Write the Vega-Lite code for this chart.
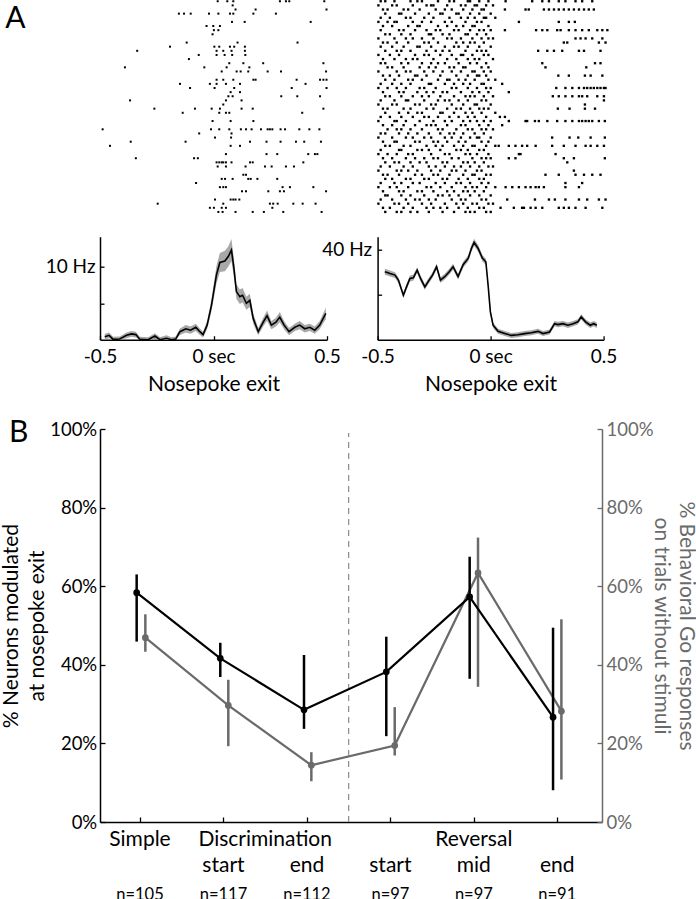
{
"$schema": "https://vega.github.io/schema/vega-lite/v6.json",
"background": "white",
"padding": 0,
"config": {"font": "Lato", "view": {"stroke": null}, "text": {"font": "Lato"},
  "axis": {"grid": false, "labelFont": "Lato", "titleFont": "Lato", "titleFontWeight": "normal", "domainColor": "#000", "tickColor": "#000", "labelColor": "#000", "titleColor": "#000", "domainWidth": 1.5, "tickWidth": 1.3, "labelOverlap": false}},
"datasets": {
"rl": [
{"t":0.013,"k":0},{"t":0.056,"k":0},{"t":0.083,"k":0},{"t":0.292,"k":0},{"t":0.319,"k":0},{"t":0.334,"k":0},{"t":0.491,"k":0},
{"t":0.08,"k":1},
{"t":0.093,"k":2},{"t":0.183,"k":2},{"t":0.501,"k":2},
{"t":-0.161,"k":3},{"t":-0.138,"k":3},{"t":-0.108,"k":3},{"t":-0.026,"k":3},{"t":0.016,"k":3},{"t":0.068,"k":3},{"t":0.083,"k":3},{"t":0.173,"k":3},{"t":0.274,"k":3},
{"t":0.077,"k":5},{"t":0.134,"k":5},{"t":0.43,"k":5},
{"t":-0.037,"k":6},{"t":-0.007,"k":6},{"t":0.023,"k":6},
{"t":-0.004,"k":7},{"t":0.016,"k":7},
{"t":-0.01,"k":8},
{"t":-0.126,"k":10},{"t":0.102,"k":10},{"t":0.371,"k":10},
{"t":-0.201,"k":11},{"t":-0.002,"k":11},{"t":0.02,"k":11},{"t":0.068,"k":11},{"t":0.087,"k":11},{"t":0.135,"k":11},
{"t":-0.348,"k":12},{"t":0.008,"k":12},{"t":0.038,"k":12},{"t":0.075,"k":12},{"t":0.135,"k":12},
{"t":-0.072,"k":13},{"t":0.008,"k":13},{"t":0.044,"k":13},{"t":0.078,"k":13},{"t":0.137,"k":13},
{"t":-0.116,"k":14},
{"t":0.065,"k":15},{"t":0.128,"k":15},{"t":0.217,"k":15},{"t":0.487,"k":15},
{"t":-0.403,"k":16},{"t":-0.047,"k":16},{"t":0.053,"k":16},{"t":0.155,"k":16},
{"t":0.031,"k":17},{"t":0.098,"k":17},{"t":0.116,"k":17},{"t":0.15,"k":17},{"t":0.237,"k":17},{"t":0.297,"k":17},{"t":0.499,"k":17},
{"t":0.008,"k":19},{"t":0.038,"k":19},{"t":0.083,"k":19},{"t":0.173,"k":19},{"t":0.183,"k":19},{"t":0.367,"k":19},{"t":0.472,"k":19},{"t":0.487,"k":19},{"t":0.501,"k":19},
{"t":-0.156,"k":20},{"t":-0.022,"k":20},{"t":0.008,"k":20},{"t":0.05,"k":20},{"t":0.113,"k":20},{"t":0.407,"k":20},
{"t":-0.111,"k":21},{"t":-0.001,"k":21},{"t":0.087,"k":21},{"t":0.345,"k":21},{"t":0.501,"k":21},
{"t":0.071,"k":22},{"t":0.113,"k":22},
{"t":0.061,"k":23},{"t":0.08,"k":23},{"t":0.298,"k":23},{"t":0.37,"k":23},{"t":0.472,"k":23},
{"t":-0.38,"k":24},{"t":0.05,"k":24},{"t":0.12,"k":24},
{"t":0.038,"k":25},
{"t":-0.271,"k":26},{"t":-0.089,"k":26},{"t":-0.014,"k":26},{"t":0.023,"k":26},{"t":0.12,"k":26},{"t":0.17,"k":26},{"t":0.487,"k":26},
{"t":-0.144,"k":27},{"t":0.02,"k":27},{"t":0.05,"k":27},{"t":0.065,"k":27},{"t":0.392,"k":27},
{"t":-0.01,"k":29},{"t":0.071,"k":29},{"t":0.173,"k":29},
{"t":-0.503,"k":31},{"t":-0.017,"k":31},{"t":0.02,"k":31},{"t":0.065,"k":31},{"t":0.117,"k":31},{"t":0.14,"k":31},{"t":0.165,"k":31},{"t":0.207,"k":31},{"t":0.237,"k":31},{"t":0.247,"k":31},{"t":0.258,"k":31},{"t":0.295,"k":31},{"t":0.315,"k":31},{"t":0.379,"k":31},{"t":0.424,"k":31},{"t":0.469,"k":31},
{"t":-0.07,"k":32},{"t":0.075,"k":32},
{"t":0.001,"k":33},{"t":0.073,"k":33},
{"t":-0.377,"k":34},{"t":-0.131,"k":34},{"t":0.158,"k":34},{"t":0.232,"k":34},{"t":0.295,"k":34},{"t":0.364,"k":34},{"t":0.401,"k":34},{"t":0.476,"k":34},
{"t":-0.47,"k":35},{"t":0.071,"k":35},{"t":0.113,"k":35},
{"t":0.05,"k":37},{"t":0.232,"k":37},{"t":0.28,"k":37},{"t":0.419,"k":37},{"t":0.449,"k":37},{"t":0.46,"k":37},
{"t":-0.354,"k":38},{"t":-0.093,"k":38},{"t":-0.076,"k":38},
{"t":0.008,"k":39},{"t":0.02,"k":39},{"t":0.031,"k":39},{"t":0.038,"k":39},{"t":0.05,"k":39},{"t":0.075,"k":39},{"t":0.158,"k":39},{"t":0.17,"k":39},{"t":0.397,"k":39},
{"t":0.013,"k":40},{"t":0.05,"k":40},{"t":0.138,"k":40},{"t":0.225,"k":40},{"t":0.255,"k":40},{"t":0.319,"k":40},{"t":0.355,"k":40},
{"t":0.128,"k":42},{"t":0.14,"k":42},
{"t":0.031,"k":43},{"t":0.046,"k":43},{"t":0.08,"k":43},{"t":0.15,"k":43},{"t":0.161,"k":43},{"t":0.191,"k":43},{"t":0.28,"k":43},
{"t":-0.084,"k":44},
{"t":0.023,"k":45},{"t":0.038,"k":45},{"t":0.05,"k":45},{"t":0.304,"k":45},{"t":0.337,"k":45},{"t":0.442,"k":45},
{"t":0.122,"k":46},{"t":0.14,"k":46},{"t":0.24,"k":46},{"t":0.292,"k":46},{"t":0.31,"k":46},{"t":0.499,"k":46},
{"t":0.001,"k":48},{"t":0.071,"k":48},{"t":0.083,"k":48},{"t":0.093,"k":48},{"t":0.11,"k":48},
{"t":-0.256,"k":49},{"t":0.038,"k":49},{"t":0.247,"k":49},{"t":0.262,"k":49},{"t":0.282,"k":49},{"t":0.352,"k":49},{"t":0.394,"k":49},{"t":0.452,"k":49},
{"t":-0.022,"k":50},{"t":-0.004,"k":50},{"t":0.031,"k":50},{"t":0.05,"k":50},{"t":0.258,"k":50},
{"t":0.016,"k":51},{"t":0.035,"k":51},{"t":0.093,"k":51},{"t":0.17,"k":51},{"t":0.22,"k":51},{"t":0.307,"k":51},{"t":0.479,"k":51}
],
"rr": [
{"t":-0.49,"k":0},{"t":-0.47,"k":0},{"t":-0.43,"k":0},{"t":-0.36,"k":0},{"t":-0.33,"k":0},{"t":-0.31,"k":0},{"t":-0.24,"k":0},{"t":-0.19,"k":0},{"t":-0.17,"k":0},{"t":-0.11,"k":0},{"t":-0.1,"k":0},{"t":-0.06,"k":0},{"t":-0.02,"k":0},
{"t":-0.5,"k":1},{"t":-0.44,"k":1},{"t":-0.42,"k":1},{"t":-0.35,"k":1},{"t":-0.29,"k":1},{"t":-0.27,"k":1},{"t":-0.26,"k":1},{"t":-0.2,"k":1},{"t":-0.14,"k":1},{"t":-0.12,"k":1},{"t":-0.08,"k":1},{"t":-0.07,"k":1},{"t":-0.03,"k":1},{"t":0.0,"k":1},
{"t":-0.48,"k":2},{"t":-0.46,"k":2},{"t":-0.39,"k":2},{"t":-0.37,"k":2},{"t":-0.32,"k":2},{"t":-0.25,"k":2},{"t":-0.21,"k":2},{"t":-0.18,"k":2},{"t":-0.13,"k":2},{"t":-0.09,"k":2},{"t":-0.05,"k":2},{"t":-0.04,"k":2},
{"t":-0.47,"k":3},{"t":-0.41,"k":3},{"t":-0.4,"k":3},{"t":-0.34,"k":3},{"t":-0.28,"k":3},{"t":-0.23,"k":3},{"t":-0.22,"k":3},{"t":-0.16,"k":3},{"t":-0.15,"k":3},{"t":-0.1,"k":3},{"t":-0.06,"k":3},{"t":-0.01,"k":3},
{"t":-0.49,"k":4},{"t":-0.45,"k":4},{"t":-0.38,"k":4},{"t":-0.36,"k":4},{"t":-0.3,"k":4},{"t":-0.26,"k":4},{"t":-0.19,"k":4},{"t":-0.14,"k":4},{"t":-0.11,"k":4},{"t":-0.08,"k":4},{"t":-0.04,"k":4},{"t":-0.03,"k":4},{"t":0.01,"k":4},
{"t":-0.5,"k":5},{"t":-0.46,"k":5},{"t":-0.43,"k":5},{"t":-0.42,"k":5},{"t":-0.35,"k":5},{"t":-0.31,"k":5},{"t":-0.27,"k":5},{"t":-0.21,"k":5},{"t":-0.18,"k":5},{"t":-0.12,"k":5},{"t":-0.07,"k":5},{"t":-0.05,"k":5},
{"t":-0.48,"k":6},{"t":-0.44,"k":6},{"t":-0.37,"k":6},{"t":-0.33,"k":6},{"t":-0.32,"k":6},{"t":-0.24,"k":6},{"t":-0.2,"k":6},{"t":-0.16,"k":6},{"t":-0.13,"k":6},{"t":-0.09,"k":6},{"t":-0.08,"k":6},{"t":-0.02,"k":6},
{"t":-0.49,"k":7},{"t":-0.41,"k":7},{"t":-0.39,"k":7},{"t":-0.34,"k":7},{"t":-0.29,"k":7},{"t":-0.25,"k":7},{"t":-0.23,"k":7},{"t":-0.17,"k":7},{"t":-0.15,"k":7},{"t":-0.1,"k":7},{"t":-0.06,"k":7},{"t":-0.04,"k":7},{"t":-0.01,"k":7},
{"t":-0.47,"k":8},{"t":-0.45,"k":8},{"t":-0.4,"k":8},{"t":-0.36,"k":8},{"t":-0.28,"k":8},{"t":-0.27,"k":8},{"t":-0.22,"k":8},{"t":-0.19,"k":8},{"t":-0.12,"k":8},{"t":-0.11,"k":8},{"t":-0.07,"k":8},{"t":-0.03,"k":8},
{"t":-0.5,"k":9},{"t":-0.43,"k":9},{"t":-0.38,"k":9},{"t":-0.35,"k":9},{"t":-0.31,"k":9},{"t":-0.26,"k":9},{"t":-0.2,"k":9},{"t":-0.18,"k":9},{"t":-0.14,"k":9},{"t":-0.09,"k":9},{"t":-0.05,"k":9},{"t":-0.02,"k":9},{"t":0.0,"k":9},
{"t":-0.48,"k":10},{"t":-0.46,"k":10},{"t":-0.42,"k":10},{"t":-0.37,"k":10},{"t":-0.3,"k":10},{"t":-0.28,"k":10},{"t":-0.24,"k":10},{"t":-0.16,"k":10},{"t":-0.13,"k":10},{"t":-0.1,"k":10},{"t":-0.08,"k":10},{"t":-0.04,"k":10},
{"t":-0.49,"k":11},{"t":-0.44,"k":11},{"t":-0.39,"k":11},{"t":-0.33,"k":11},{"t":-0.32,"k":11},{"t":-0.27,"k":11},{"t":-0.21,"k":11},{"t":-0.17,"k":11},{"t":-0.15,"k":11},{"t":-0.11,"k":11},{"t":-0.06,"k":11},{"t":-0.01,"k":11},
{"t":-0.47,"k":12},{"t":-0.42,"k":12},{"t":-0.4,"k":12},{"t":-0.36,"k":12},{"t":-0.29,"k":12},{"t":-0.25,"k":12},{"t":-0.22,"k":12},{"t":-0.19,"k":12},{"t":-0.12,"k":12},{"t":-0.07,"k":12},{"t":-0.05,"k":12},{"t":-0.03,"k":12},
{"t":-0.5,"k":13},{"t":-0.45,"k":13},{"t":-0.41,"k":13},{"t":-0.34,"k":13},{"t":-0.3,"k":13},{"t":-0.28,"k":13},{"t":-0.23,"k":13},{"t":-0.18,"k":13},{"t":-0.14,"k":13},{"t":-0.13,"k":13},{"t":-0.09,"k":13},{"t":-0.04,"k":13},{"t":-0.02,"k":13},
{"t":-0.48,"k":14},{"t":-0.43,"k":14},{"t":-0.38,"k":14},{"t":-0.35,"k":14},{"t":-0.33,"k":14},{"t":-0.26,"k":14},{"t":-0.2,"k":14},{"t":-0.16,"k":14},{"t":-0.11,"k":14},{"t":-0.08,"k":14},{"t":-0.06,"k":14},{"t":0.0,"k":14},
{"t":-0.49,"k":15},{"t":-0.47,"k":15},{"t":-0.4,"k":15},{"t":-0.37,"k":15},{"t":-0.31,"k":15},{"t":-0.27,"k":15},{"t":-0.24,"k":15},{"t":-0.21,"k":15},{"t":-0.15,"k":15},{"t":-0.1,"k":15},{"t":-0.07,"k":15},{"t":-0.03,"k":15},
{"t":-0.46,"k":16},{"t":-0.44,"k":16},{"t":-0.39,"k":16},{"t":-0.32,"k":16},{"t":-0.28,"k":16},{"t":-0.25,"k":16},{"t":-0.19,"k":16},{"t":-0.17,"k":16},{"t":-0.13,"k":16},{"t":-0.12,"k":16},{"t":-0.05,"k":16},{"t":-0.02,"k":16},
{"t":-0.5,"k":17},{"t":-0.42,"k":17},{"t":-0.38,"k":17},{"t":-0.36,"k":17},{"t":-0.3,"k":17},{"t":-0.26,"k":17},{"t":-0.22,"k":17},{"t":-0.18,"k":17},{"t":-0.14,"k":17},{"t":-0.09,"k":17},{"t":-0.08,"k":17},{"t":-0.04,"k":17},{"t":-0.01,"k":17},
{"t":-0.48,"k":18},{"t":-0.45,"k":18},{"t":-0.41,"k":18},{"t":-0.34,"k":18},{"t":-0.33,"k":18},{"t":-0.29,"k":18},{"t":-0.23,"k":18},{"t":-0.16,"k":18},{"t":-0.11,"k":18},{"t":-0.07,"k":18},{"t":-0.06,"k":18},{"t":-0.03,"k":18},
{"t":-0.47,"k":19},{"t":-0.43,"k":19},{"t":-0.37,"k":19},{"t":-0.35,"k":19},{"t":-0.31,"k":19},{"t":-0.24,"k":19},{"t":-0.2,"k":19},{"t":-0.19,"k":19},{"t":-0.15,"k":19},{"t":-0.12,"k":19},{"t":-0.08,"k":19},{"t":-0.02,"k":19},{"t":0.01,"k":19},
{"t":-0.49,"k":20},{"t":-0.44,"k":20},{"t":-0.4,"k":20},{"t":-0.36,"k":20},{"t":-0.28,"k":20},{"t":-0.27,"k":20},{"t":-0.21,"k":20},{"t":-0.17,"k":20},{"t":-0.13,"k":20},{"t":-0.1,"k":20},{"t":-0.05,"k":20},{"t":-0.04,"k":20},
{"t":-0.5,"k":21},{"t":-0.46,"k":21},{"t":-0.42,"k":21},{"t":-0.38,"k":21},{"t":-0.32,"k":21},{"t":-0.3,"k":21},{"t":-0.25,"k":21},{"t":-0.18,"k":21},{"t":-0.16,"k":21},{"t":-0.11,"k":21},{"t":-0.07,"k":21},{"t":-0.03,"k":21},{"t":-0.01,"k":21},
{"t":-0.48,"k":22},{"t":-0.41,"k":22},{"t":-0.39,"k":22},{"t":-0.33,"k":22},{"t":-0.29,"k":22},{"t":-0.26,"k":22},{"t":-0.22,"k":22},{"t":-0.2,"k":22},{"t":-0.14,"k":22},{"t":-0.09,"k":22},{"t":-0.06,"k":22},{"t":-0.02,"k":22},
{"t":-0.47,"k":23},{"t":-0.45,"k":23},{"t":-0.4,"k":23},{"t":-0.35,"k":23},{"t":-0.31,"k":23},{"t":-0.28,"k":23},{"t":-0.23,"k":23},{"t":-0.17,"k":23},{"t":-0.12,"k":23},{"t":-0.1,"k":23},{"t":-0.08,"k":23},{"t":-0.04,"k":23},{"t":0.0,"k":23},
{"t":-0.49,"k":24},{"t":-0.43,"k":24},{"t":-0.38,"k":24},{"t":-0.37,"k":24},{"t":-0.3,"k":24},{"t":-0.24,"k":24},{"t":-0.21,"k":24},{"t":-0.19,"k":24},{"t":-0.15,"k":24},{"t":-0.11,"k":24},{"t":-0.05,"k":24},{"t":-0.03,"k":24},
{"t":-0.5,"k":25},{"t":-0.44,"k":25},{"t":-0.42,"k":25},{"t":-0.34,"k":25},{"t":-0.32,"k":25},{"t":-0.27,"k":25},{"t":-0.25,"k":25},{"t":-0.18,"k":25},{"t":-0.13,"k":25},{"t":-0.08,"k":25},{"t":-0.07,"k":25},{"t":-0.01,"k":25},
{"t":-0.48,"k":26},{"t":-0.46,"k":26},{"t":-0.39,"k":26},{"t":-0.36,"k":26},{"t":-0.29,"k":26},{"t":-0.26,"k":26},{"t":-0.2,"k":26},{"t":-0.16,"k":26},{"t":-0.14,"k":26},{"t":-0.1,"k":26},{"t":-0.06,"k":26},{"t":-0.04,"k":26},{"t":-0.02,"k":26},
{"t":-0.47,"k":27},{"t":-0.41,"k":27},{"t":-0.37,"k":27},{"t":-0.33,"k":27},{"t":-0.31,"k":27},{"t":-0.23,"k":27},{"t":-0.22,"k":27},{"t":-0.17,"k":27},{"t":-0.12,"k":27},{"t":-0.09,"k":27},{"t":-0.05,"k":27},{"t":0.01,"k":27},
{"t":-0.49,"k":28},{"t":-0.45,"k":28},{"t":-0.4,"k":28},{"t":-0.35,"k":28},{"t":-0.3,"k":28},{"t":-0.28,"k":28},{"t":-0.24,"k":28},{"t":-0.19,"k":28},{"t":-0.15,"k":28},{"t":-0.11,"k":28},{"t":-0.08,"k":28},{"t":-0.03,"k":28},
{"t":-0.5,"k":29},{"t":-0.43,"k":29},{"t":-0.42,"k":29},{"t":-0.38,"k":29},{"t":-0.32,"k":29},{"t":-0.26,"k":29},{"t":-0.21,"k":29},{"t":-0.18,"k":29},{"t":-0.13,"k":29},{"t":-0.1,"k":29},{"t":-0.07,"k":29},{"t":-0.04,"k":29},{"t":-0.01,"k":29},
{"t":-0.48,"k":30},{"t":-0.44,"k":30},{"t":-0.39,"k":30},{"t":-0.34,"k":30},{"t":-0.29,"k":30},{"t":-0.27,"k":30},{"t":-0.25,"k":30},{"t":-0.2,"k":30},{"t":-0.14,"k":30},{"t":-0.12,"k":30},{"t":-0.06,"k":30},{"t":-0.02,"k":30},
{"t":-0.46,"k":31},{"t":-0.42,"k":31},{"t":-0.4,"k":31},{"t":-0.36,"k":31},{"t":-0.31,"k":31},{"t":-0.24,"k":31},{"t":-0.22,"k":31},{"t":-0.16,"k":31},{"t":-0.11,"k":31},{"t":-0.09,"k":31},{"t":-0.05,"k":31},{"t":-0.03,"k":31},{"t":0.0,"k":31},
{"t":-0.49,"k":32},{"t":-0.47,"k":32},{"t":-0.41,"k":32},{"t":-0.37,"k":32},{"t":-0.33,"k":32},{"t":-0.28,"k":32},{"t":-0.23,"k":32},{"t":-0.19,"k":32},{"t":-0.17,"k":32},{"t":-0.13,"k":32},{"t":-0.08,"k":32},{"t":-0.04,"k":32},
{"t":-0.5,"k":33},{"t":-0.44,"k":33},{"t":-0.38,"k":33},{"t":-0.35,"k":33},{"t":-0.3,"k":33},{"t":-0.27,"k":33},{"t":-0.21,"k":33},{"t":-0.18,"k":33},{"t":-0.14,"k":33},{"t":-0.1,"k":33},{"t":-0.07,"k":33},{"t":-0.06,"k":33},{"t":-0.01,"k":33},
{"t":-0.48,"k":34},{"t":-0.43,"k":34},{"t":-0.42,"k":34},{"t":-0.34,"k":34},{"t":-0.32,"k":34},{"t":-0.26,"k":34},{"t":-0.24,"k":34},{"t":-0.2,"k":34},{"t":-0.15,"k":34},{"t":-0.12,"k":34},{"t":-0.05,"k":34},{"t":-0.02,"k":34},
{"t":-0.47,"k":35},{"t":-0.45,"k":35},{"t":-0.39,"k":35},{"t":-0.36,"k":35},{"t":-0.29,"k":35},{"t":-0.25,"k":35},{"t":-0.22,"k":35},{"t":-0.17,"k":35},{"t":-0.13,"k":35},{"t":-0.09,"k":35},{"t":-0.08,"k":35},{"t":-0.03,"k":35},{"t":0.01,"k":35},
{"t":-0.49,"k":36},{"t":-0.41,"k":36},{"t":-0.4,"k":36},{"t":-0.33,"k":36},{"t":-0.31,"k":36},{"t":-0.28,"k":36},{"t":-0.23,"k":36},{"t":-0.16,"k":36},{"t":-0.14,"k":36},{"t":-0.11,"k":36},{"t":-0.06,"k":36},{"t":-0.04,"k":36},
{"t":-0.5,"k":37},{"t":-0.46,"k":37},{"t":-0.42,"k":37},{"t":-0.37,"k":37},{"t":-0.35,"k":37},{"t":-0.27,"k":37},{"t":-0.21,"k":37},{"t":-0.19,"k":37},{"t":-0.12,"k":37},{"t":-0.1,"k":37},{"t":-0.07,"k":37},{"t":-0.02,"k":37},
{"t":-0.48,"k":38},{"t":-0.44,"k":38},{"t":-0.38,"k":38},{"t":-0.34,"k":38},{"t":-0.3,"k":38},{"t":-0.26,"k":38},{"t":-0.24,"k":38},{"t":-0.18,"k":38},{"t":-0.15,"k":38},{"t":-0.09,"k":38},{"t":-0.05,"k":38},{"t":-0.03,"k":38},{"t":-0.01,"k":38},
{"t":-0.47,"k":39},{"t":-0.43,"k":39},{"t":-0.41,"k":39},{"t":-0.36,"k":39},{"t":-0.32,"k":39},{"t":-0.29,"k":39},{"t":-0.22,"k":39},{"t":-0.2,"k":39},{"t":-0.13,"k":39},{"t":-0.11,"k":39},{"t":-0.08,"k":39},{"t":-0.04,"k":39},
{"t":-0.49,"k":40},{"t":-0.45,"k":40},{"t":-0.39,"k":40},{"t":-0.35,"k":40},{"t":-0.28,"k":40},{"t":-0.25,"k":40},{"t":-0.21,"k":40},{"t":-0.17,"k":40},{"t":-0.14,"k":40},{"t":-0.1,"k":40},{"t":-0.06,"k":40},{"t":-0.02,"k":40},{"t":0.0,"k":40},
{"t":-0.5,"k":41},{"t":-0.42,"k":41},{"t":-0.4,"k":41},{"t":-0.37,"k":41},{"t":-0.33,"k":41},{"t":-0.27,"k":41},{"t":-0.23,"k":41},{"t":-0.18,"k":41},{"t":-0.16,"k":41},{"t":-0.12,"k":41},{"t":-0.07,"k":41},{"t":-0.05,"k":41},
{"t":-0.48,"k":42},{"t":-0.46,"k":42},{"t":-0.41,"k":42},{"t":-0.34,"k":42},{"t":-0.31,"k":42},{"t":-0.26,"k":42},{"t":-0.24,"k":42},{"t":-0.19,"k":42},{"t":-0.13,"k":42},{"t":-0.09,"k":42},{"t":-0.08,"k":42},{"t":-0.03,"k":42},{"t":-0.01,"k":42},
{"t":-0.47,"k":43},{"t":-0.44,"k":43},{"t":-0.38,"k":43},{"t":-0.36,"k":43},{"t":-0.3,"k":43},{"t":-0.28,"k":43},{"t":-0.22,"k":43},{"t":-0.2,"k":43},{"t":-0.15,"k":43},{"t":-0.11,"k":43},{"t":-0.06,"k":43},{"t":-0.04,"k":43},
{"t":-0.49,"k":44},{"t":-0.43,"k":44},{"t":-0.4,"k":44},{"t":-0.35,"k":44},{"t":-0.32,"k":44},{"t":-0.25,"k":44},{"t":-0.21,"k":44},{"t":-0.16,"k":44},{"t":-0.14,"k":44},{"t":-0.1,"k":44},{"t":-0.05,"k":44},{"t":-0.02,"k":44},
{"t":-0.5,"k":45},{"t":-0.45,"k":45},{"t":-0.42,"k":45},{"t":-0.37,"k":45},{"t":-0.29,"k":45},{"t":-0.27,"k":45},{"t":-0.23,"k":45},{"t":-0.18,"k":45},{"t":-0.12,"k":45},{"t":-0.09,"k":45},{"t":-0.07,"k":45},{"t":-0.03,"k":45},{"t":0.01,"k":45},
{"t":-0.48,"k":46},{"t":-0.41,"k":46},{"t":-0.39,"k":46},{"t":-0.33,"k":46},{"t":-0.31,"k":46},{"t":-0.26,"k":46},{"t":-0.2,"k":46},{"t":-0.17,"k":46},{"t":-0.13,"k":46},{"t":-0.11,"k":46},{"t":-0.08,"k":46},{"t":-0.04,"k":46},
{"t":-0.47,"k":47},{"t":-0.46,"k":47},{"t":-0.4,"k":47},{"t":-0.36,"k":47},{"t":-0.3,"k":47},{"t":-0.24,"k":47},{"t":-0.22,"k":47},{"t":-0.19,"k":47},{"t":-0.15,"k":47},{"t":-0.1,"k":47},{"t":-0.06,"k":47},{"t":-0.01,"k":47},
{"t":-0.49,"k":48},{"t":-0.44,"k":48},{"t":-0.38,"k":48},{"t":-0.34,"k":48},{"t":-0.32,"k":48},{"t":-0.28,"k":48},{"t":-0.25,"k":48},{"t":-0.18,"k":48},{"t":-0.14,"k":48},{"t":-0.12,"k":48},{"t":-0.05,"k":48},{"t":-0.03,"k":48},
{"t":-0.5,"k":49},{"t":-0.43,"k":49},{"t":-0.41,"k":49},{"t":-0.37,"k":49},{"t":-0.31,"k":49},{"t":-0.27,"k":49},{"t":-0.21,"k":49},{"t":-0.16,"k":49},{"t":-0.13,"k":49},{"t":-0.09,"k":49},{"t":-0.07,"k":49},{"t":-0.02,"k":49},{"t":0.0,"k":49},
{"t":-0.48,"k":50},{"t":-0.45,"k":50},{"t":-0.39,"k":50},{"t":-0.35,"k":50},{"t":-0.29,"k":50},{"t":-0.26,"k":50},{"t":-0.23,"k":50},{"t":-0.2,"k":50},{"t":-0.15,"k":50},{"t":-0.11,"k":50},{"t":-0.06,"k":50},{"t":-0.04,"k":50},
{"t":-0.47,"k":51},{"t":-0.42,"k":51},{"t":-0.4,"k":51},{"t":-0.36,"k":51},{"t":-0.33,"k":51},{"t":-0.28,"k":51},{"t":-0.22,"k":51},{"t":-0.17,"k":51},{"t":-0.12,"k":51},{"t":-0.1,"k":51},{"t":-0.08,"k":51},{"t":-0.03,"k":51},{"t":-0.01,"k":51},
{"t":0.055,"k":0},{"t":0.171,"k":0},{"t":0.215,"k":0},{"t":0.244,"k":0},{"t":0.287,"k":0},{"t":0.316,"k":0},{"t":0.36,"k":0},{"t":0.389,"k":0},{"t":0.433,"k":0},
{"t":0.052,"k":2},{"t":0.142,"k":2},{"t":0.156,"k":2},{"t":0.222,"k":2},{"t":0.244,"k":2},{"t":0.266,"k":2},{"t":0.287,"k":2},{"t":0.309,"k":2},{"t":0.331,"k":2},{"t":0.353,"k":2},{"t":0.375,"k":2},{"t":0.397,"k":2},{"t":0.418,"k":2},{"t":0.44,"k":2},
{"t":0.113,"k":5},{"t":0.287,"k":5},{"t":0.331,"k":5},{"t":0.357,"k":5},
{"t":0.052,"k":7},{"t":0.188,"k":7},{"t":0.215,"k":7},{"t":0.237,"k":7},{"t":0.28,"k":7},{"t":0.295,"k":7},{"t":0.331,"k":7},{"t":0.36,"k":7},{"t":0.389,"k":7},{"t":0.418,"k":7},{"t":0.455,"k":7},{"t":0.477,"k":7},{"t":0.499,"k":7},
{"t":0.36,"k":9},{"t":0.382,"k":9},{"t":0.404,"k":9},{"t":0.433,"k":9},{"t":0.477,"k":9},
{"t":0.309,"k":10},{"t":0.324,"k":10},{"t":0.462,"k":10},{"t":0.491,"k":10},
{"t":0.197,"k":12},{"t":0.237,"k":12},{"t":0.266,"k":12},{"t":0.302,"k":12},{"t":0.375,"k":12},{"t":0.397,"k":12},{"t":0.469,"k":12},
{"t":0.215,"k":15},{"t":0.445,"k":15},{"t":0.469,"k":15},
{"t":0.229,"k":16},{"t":0.407,"k":16},
{"t":0.285,"k":18},{"t":0.331,"k":18},{"t":0.401,"k":18},{"t":0.426,"k":18},{"t":0.477,"k":18},
{"t":0.04,"k":20},
{"t":0.276,"k":21},{"t":0.316,"k":21},{"t":0.346,"k":21},{"t":0.375,"k":21},{"t":0.397,"k":21},{"t":0.411,"k":21},{"t":0.426,"k":21},{"t":0.44,"k":21},{"t":0.455,"k":21},{"t":0.469,"k":21},{"t":0.484,"k":21},{"t":0.491,"k":21},
{"t":0.069,"k":22},
{"t":0.261,"k":23},{"t":0.287,"k":23},{"t":0.316,"k":23},{"t":0.346,"k":23},{"t":0.375,"k":23},{"t":0.389,"k":23},{"t":0.411,"k":23},{"t":0.455,"k":23},{"t":0.484,"k":23},
{"t":0.484,"k":24},
{"t":0.401,"k":25},
{"t":0.283,"k":26},{"t":0.334,"k":26},{"t":0.401,"k":26},{"t":0.445,"k":26},
{"t":0.03,"k":28},{"t":0.052,"k":28},
{"t":0.069,"k":29},{"t":0.142,"k":29},{"t":0.149,"k":29},{"t":0.183,"k":29},{"t":0.2,"k":29},{"t":0.237,"k":29},{"t":0.28,"k":29},{"t":0.316,"k":29},{"t":0.346,"k":29},{"t":0.375,"k":29},{"t":0.389,"k":29},{"t":0.404,"k":29},{"t":0.418,"k":29},{"t":0.433,"k":29},{"t":0.462,"k":29},{"t":0.488,"k":29},
{"t":0.04,"k":30},
{"t":0.258,"k":33},{"t":0.334,"k":33},{"t":0.372,"k":33},{"t":0.426,"k":33},{"t":0.488,"k":33},
{"t":0.025,"k":35},{"t":0.069,"k":35},{"t":0.098,"k":35},{"t":0.127,"k":35},{"t":0.149,"k":35},{"t":0.186,"k":35},{"t":0.258,"k":35},{"t":0.309,"k":35},{"t":0.36,"k":35},{"t":0.404,"k":35},{"t":0.426,"k":35},{"t":0.455,"k":35},{"t":0.484,"k":35},
{"t":0.113,"k":37},{"t":0.12,"k":37},{"t":0.273,"k":37},
{"t":0.069,"k":38},{"t":0.098,"k":38},{"t":0.309,"k":38},{"t":0.353,"k":38},{"t":0.488,"k":38},
{"t":0.324,"k":39},
{"t":0.353,"k":41},
{"t":0.229,"k":42},{"t":0.287,"k":42},{"t":0.36,"k":42},{"t":0.397,"k":42},{"t":0.433,"k":42},{"t":0.469,"k":42},
{"t":0.316,"k":44},{"t":0.389,"k":44},
{"t":0.055,"k":45},{"t":0.084,"k":45},{"t":0.113,"k":45},{"t":0.142,"k":45},{"t":0.164,"k":45},{"t":0.186,"k":45},{"t":0.2,"k":45},{"t":0.222,"k":45},{"t":0.316,"k":45},{"t":0.375,"k":45},
{"t":0.062,"k":48},{"t":0.183,"k":48},{"t":0.244,"k":48},{"t":0.27,"k":48},{"t":0.316,"k":48},{"t":0.375,"k":48},{"t":0.411,"k":48},{"t":0.462,"k":48},{"t":0.491,"k":48},
{"t":0.033,"k":50},{"t":0.091,"k":50},{"t":0.127,"k":50},{"t":0.135,"k":50},{"t":0.164,"k":50},{"t":0.186,"k":50},{"t":0.215,"k":50},{"t":0.287,"k":50},{"t":0.309,"k":50},{"t":0.331,"k":50},{"t":0.36,"k":50},{"t":0.404,"k":50},{"t":0.477,"k":50}
],
"pl": [
{"t":-0.479,"m":0.4,"lo":0.0,"hi":0.8},{"t":-0.46,"m":0.6,"lo":0.2,"hi":1.0},{"t":-0.442,"m":0.05,"lo":0,"hi":0.4},{"t":-0.413,"m":0.1,"lo":0,"hi":0.45},{"t":-0.383,"m":0.6,"lo":0.2,"hi":1.0},{"t":-0.361,"m":0.8,"lo":0.4,"hi":1.2},{"t":-0.342,"m":0.7,"lo":0.3,"hi":1.1},{"t":-0.325,"m":0.05,"lo":0,"hi":0.4},{"t":-0.288,"m":0,"lo":0,"hi":0.35},{"t":-0.258,"m":0.5,"lo":0.1,"hi":0.9},{"t":-0.236,"m":0,"lo":0,"hi":0.35},{"t":-0.207,"m":0.2,"lo":0,"hi":0.6},{"t":-0.185,"m":0,"lo":0,"hi":0.35},{"t":-0.166,"m":0.1,"lo":0,"hi":0.45},{"t":-0.148,"m":1.1,"lo":0.65,"hi":1.55},{"t":-0.122,"m":1.5,"lo":1.0,"hi":2.0},{"t":-0.101,"m":1.3,"lo":0.8,"hi":1.8},{"t":-0.078,"m":1.7,"lo":1.2,"hi":2.2},{"t":-0.06,"m":1.1,"lo":0.65,"hi":1.55},{"t":-0.046,"m":0.7,"lo":0.3,"hi":1.1},{"t":-0.028,"m":2.0,"lo":1.45,"hi":2.55},{"t":-0.009,"m":4.7,"lo":3.9,"hi":5.5},{"t":0.013,"m":8.9,"lo":7.7,"hi":10.1},{"t":0.028,"m":10.6,"lo":9.3,"hi":11.9},{"t":0.05,"m":10.8,"lo":9.4,"hi":12.2},{"t":0.065,"m":11.4,"lo":10.0,"hi":12.8},{"t":0.079,"m":12.3,"lo":10.8,"hi":13.8},{"t":0.09,"m":9.8,"lo":8.5,"hi":11.1},{"t":0.101,"m":6.6,"lo":5.6,"hi":7.6},{"t":0.116,"m":5.9,"lo":4.9,"hi":6.9},{"t":0.128,"m":6.1,"lo":5.1,"hi":7.1},{"t":0.145,"m":5.0,"lo":4.1,"hi":5.9},{"t":0.16,"m":5.4,"lo":4.5,"hi":6.3},{"t":0.175,"m":2.9,"lo":2.2,"hi":3.6},{"t":0.197,"m":1.1,"lo":0.6,"hi":1.6},{"t":0.219,"m":2.4,"lo":1.8,"hi":3.0},{"t":0.236,"m":3.3,"lo":2.6,"hi":4.0},{"t":0.255,"m":2.0,"lo":1.45,"hi":2.55},{"t":0.275,"m":2.4,"lo":1.8,"hi":3.0},{"t":0.292,"m":3.1,"lo":2.4,"hi":3.8},{"t":0.311,"m":2.0,"lo":1.45,"hi":2.55},{"t":0.333,"m":1.1,"lo":0.6,"hi":1.6},{"t":0.358,"m":1.7,"lo":1.2,"hi":2.2},{"t":0.38,"m":2.0,"lo":1.45,"hi":2.55},{"t":0.402,"m":1.5,"lo":1.0,"hi":2.0},{"t":0.424,"m":1.7,"lo":1.2,"hi":2.2},{"t":0.446,"m":1.3,"lo":0.8,"hi":1.8},{"t":0.468,"m":2.0,"lo":1.45,"hi":2.55},{"t":0.486,"m":3.1,"lo":2.4,"hi":3.8},{"t":0.495,"m":3.6,"lo":2.8,"hi":4.4}
],
"pr": [
{"t":-0.468,"m":30.1,"lo":28.8,"hi":31.4},{"t":-0.445,"m":29.3,"lo":28.0,"hi":30.6},{"t":-0.423,"m":28.6,"lo":27.3,"hi":29.9},{"t":-0.408,"m":26.4,"lo":25.1,"hi":27.7},{"t":-0.386,"m":19.7,"lo":18.4,"hi":21.0},{"t":-0.372,"m":23.4,"lo":22.1,"hi":24.7},{"t":-0.357,"m":27.1,"lo":25.8,"hi":28.4},{"t":-0.342,"m":27.4,"lo":26.1,"hi":28.7},{"t":-0.325,"m":30.8,"lo":29.5,"hi":32.1},{"t":-0.31,"m":27.1,"lo":25.8,"hi":28.4},{"t":-0.291,"m":23.4,"lo":22.1,"hi":24.7},{"t":-0.272,"m":26.4,"lo":25.1,"hi":27.7},{"t":-0.257,"m":28.6,"lo":27.3,"hi":29.9},{"t":-0.239,"m":32.3,"lo":31.0,"hi":33.6},{"t":-0.222,"m":26.4,"lo":25.1,"hi":27.7},{"t":-0.203,"m":27.9,"lo":26.6,"hi":29.2},{"t":-0.183,"m":30.1,"lo":28.8,"hi":31.4},{"t":-0.166,"m":32.3,"lo":31.0,"hi":33.6},{"t":-0.144,"m":27.9,"lo":26.6,"hi":29.2},{"t":-0.121,"m":33.3,"lo":32.0,"hi":34.6},{"t":-0.099,"m":36.0,"lo":34.6,"hi":37.4},{"t":-0.085,"m":40.4,"lo":38.9,"hi":41.9},{"t":-0.073,"m":43.1,"lo":41.5,"hi":44.7},{"t":-0.055,"m":40.4,"lo":38.9,"hi":41.9},{"t":-0.036,"m":36.0,"lo":34.6,"hi":37.4},{"t":-0.021,"m":34.5,"lo":33.1,"hi":35.9},{"t":-0.011,"m":24.1,"lo":22.8,"hi":25.4},{"t":-0.001,"m":12.3,"lo":11.0,"hi":13.6},{"t":0.011,"m":6.4,"lo":5.2,"hi":7.6},{"t":0.033,"m":3.7,"lo":2.6,"hi":4.8},{"t":0.063,"m":2.7,"lo":1.6,"hi":3.8},{"t":0.092,"m":1.9,"lo":0.8,"hi":3.0},{"t":0.121,"m":2.2,"lo":1.1,"hi":3.3},{"t":0.151,"m":2.7,"lo":1.6,"hi":3.8},{"t":0.18,"m":3.1,"lo":2.0,"hi":4.2},{"t":0.21,"m":3.7,"lo":2.6,"hi":4.8},{"t":0.232,"m":2.7,"lo":1.6,"hi":3.8},{"t":0.261,"m":3.4,"lo":2.3,"hi":4.5},{"t":0.283,"m":7.1,"lo":5.9,"hi":8.3},{"t":0.298,"m":6.7,"lo":5.5,"hi":7.9},{"t":0.32,"m":7.1,"lo":5.9,"hi":8.3},{"t":0.342,"m":6.4,"lo":5.2,"hi":7.6},{"t":0.365,"m":7.1,"lo":5.9,"hi":8.3},{"t":0.386,"m":7.9,"lo":6.7,"hi":9.1},{"t":0.401,"m":10.1,"lo":8.9,"hi":11.3},{"t":0.42,"m":7.9,"lo":6.7,"hi":9.1},{"t":0.441,"m":6.4,"lo":5.2,"hi":7.6},{"t":0.456,"m":7.1,"lo":5.9,"hi":8.3},{"t":0.47,"m":6.4,"lo":5.2,"hi":7.6}
],
"neu": [
{"x":0.96,"y":0.5836,"lo":0.459,"hi":0.63},{"x":1.962,"y":0.4164,"lo":0.369,"hi":0.456},{"x":2.965,"y":0.2854,"lo":0.237,"hi":0.425},{"x":3.951,"y":0.382,"lo":0.2184,"hi":0.4715},{"x":4.95,"y":0.5727,"lo":0.3644,"hi":0.675},{"x":5.949,"y":0.2668,"lo":0.0808,"hi":0.4944}
],
"beh": [
{"x":1.064,"y":0.469,"lo":0.4332,"hi":0.5285},{"x":2.058,"y":0.2966,"lo":0.1929,"hi":0.3619},{"x":3.053,"y":0.1445,"lo":0.1037,"hi":0.1776},{"x":4.052,"y":0.1947,"lo":0.1692,"hi":0.2923},{"x":5.05,"y":0.6338,"lo":0.344,"hi":0.7237},{"x":6.049,"y":0.2821,"lo":0.108,"hi":0.5158}
],
"l1": [{"x":1,"s":"Simple"},{"x":2.5,"s":"Discrimination"},{"x":5,"s":"Reversal"}],
"l2": [{"x":2,"s":"start"},{"x":3,"s":"end"},{"x":4,"s":"start"},{"x":5,"s":"mid"},{"x":6,"s":"end"}],
"l3": [{"x":1,"s":"n=105"},{"x":2,"s":"n=117"},{"x":3,"s":"n=112"},{"x":4,"s":"n=97"},{"x":5,"s":"n=97"},{"x":6,"s":"n=91"}]
},
"spacing": 23,
"vconcat": [
{
 "columns": 2,
 "spacing": {"row": 22.7, "column": -29.4},
 "concat": [
  {"width": 245, "height": 214,
   "layer": [
    {"data": {"name": "rl"}, "mark": {"type": "square", "size": 4, "color": "#000", "opacity": 1},
     "encoding": {"x": {"field": "t", "type": "quantitative", "scale": {"domain": [-0.5148, 0.5839], "nice": false, "zero": false}, "axis": null},
                  "y": {"field": "k", "type": "quantitative", "scale": {"domain": [-0.3, 51.5], "nice": false, "zero": false, "reverse": true}, "axis": null}}},
    {"data": {"values": [{"s": "A"}]}, "mark": {"type": "text", "fontSize": 30, "align": "left", "baseline": "alphabetic", "color": "#000"},
     "encoding": {"x": {"datum": -0.9395}, "y": {"datum": 6.48}, "text": {"field": "s"}}}
   ]},
  {"width": 230, "height": 214,
   "data": {"name": "rr"}, "mark": {"type": "square", "size": 5.5, "color": "#000", "opacity": 1},
   "encoding": {"x": {"field": "t", "type": "quantitative", "scale": {"domain": [-0.5035, 0.5], "nice": false, "zero": false}, "axis": null},
                "y": {"field": "k", "type": "quantitative", "scale": {"domain": [-0.3, 51.5], "nice": false, "zero": false, "reverse": true}, "axis": null}}},
  {"width": 227, "height": 103, "data": {"name": "pl"},
   "layer": [
    {"mark": {"type": "area", "color": "#a8a8a8", "opacity": 1},
     "encoding": {"x": {"field": "t", "type": "quantitative", "scale": {"domain": [-0.5, 0.5], "nice": false, "zero": false},
                        "axis": {"values": [-0.5, 0, 0.5], "labelExpr": "datum.value == 0 ? '0 sec' : (datum.value < 0 ? '-0.5' : '0.5')", "labelFlush": false, "title": "Nosepoke exit", "titleFontSize": 21, "titlePadding": 7, "labelFontSize": 19, "labelPadding": 12, "tickSize": -4}},
                  "y": {"field": "lo", "type": "quantitative", "scale": {"domain": [0, 14.13], "nice": false, "zero": false},
                        "axis": {"values": [5, 10], "labelExpr": "datum.value == 10 ? '10 Hz' : ''", "title": null, "minExtent": 96.7, "maxExtent": 96.7, "labelFontSize": 19, "labelPadding": 9, "tickSize": -4}},
                  "y2": {"field": "hi"}}},
    {"mark": {"type": "line", "color": "#000", "strokeWidth": 1.6},
     "encoding": {"x": {"field": "t", "type": "quantitative"}, "y": {"field": "m", "type": "quantitative"}}}
   ]},
  {"width": 226, "height": 103, "data": {"name": "pr"},
   "layer": [
    {"mark": {"type": "area", "color": "#a8a8a8", "opacity": 1},
     "encoding": {"x": {"field": "t", "type": "quantitative", "scale": {"domain": [-0.5, 0.5], "nice": false, "zero": false},
                        "axis": {"values": [-0.5, 0, 0.5], "labelExpr": "datum.value == 0 ? '0 sec' : (datum.value < 0 ? '-0.5' : '0.5')", "labelFlush": false, "title": "Nosepoke exit", "titleFontSize": 21, "titlePadding": 7, "labelFontSize": 19, "labelPadding": 12, "tickSize": -4}},
                  "y": {"field": "lo", "type": "quantitative", "scale": {"domain": [0, 45.6], "nice": false, "zero": false},
                        "axis": {"values": [20, 40], "labelExpr": "datum.value == 40 ? '40 Hz' : ''", "title": null, "minExtent": 62, "maxExtent": 62, "labelFontSize": 19, "labelPadding": 10, "tickSize": -4}},
                  "y2": {"field": "hi"}}},
    {"mark": {"type": "line", "color": "#000", "strokeWidth": 1.6},
     "encoding": {"x": {"field": "t", "type": "quantitative"}, "y": {"field": "m", "type": "quantitative"}}}
   ]}
 ]
},
{
 "width": 502, "height": 393,
 "resolve": {"scale": {"y": "independent"}},
 "layer": [
  {"layer": [
    {"data": {"name": "beh"}, "mark": {"type": "rule", "color": "#6a6a6a", "strokeWidth": 2.5},
     "encoding": {"x": {"field": "x", "type": "quantitative", "scale": {"domain": [0.5207, 6.5356], "nice": false, "zero": false},
                        "axis": {"values": [1, 2, 3, 4, 5, 6], "labels": false, "title": null, "tickSize": -5}},
                  "y": {"field": "lo", "type": "quantitative", "scale": {"domain": [0, 1], "nice": false, "zero": false},
                        "axis": {"orient": "right", "values": [0, 0.1, 0.2, 0.3, 0.4, 0.5, 0.6, 0.7, 0.8, 0.9, 1], "labelExpr": "round(datum.value*10) % 2 == 0 ? round(datum.value*100) + '%' : ''",
                                 "title": ["% Behavioral Go responses", "on trials without stimuli"], "titleFontSize": 21, "titleLineHeight": 25, "titlePadding": 0.5, "minExtent": 48, "maxExtent": 48,
                                 "labelFontSize": 18.5, "labelPadding": 9, "tickSize": -5, "domainColor": "#6a6a6a", "tickColor": "#6a6a6a", "labelColor": "#6a6a6a", "titleColor": "#6a6a6a"}},
                  "y2": {"field": "hi"}}},
    {"data": {"name": "beh"}, "mark": {"type": "line", "color": "#6a6a6a", "strokeWidth": 2.2},
     "encoding": {"x": {"field": "x", "type": "quantitative"}, "y": {"field": "y", "type": "quantitative"}}},
    {"data": {"name": "beh"}, "mark": {"type": "circle", "color": "#6a6a6a", "size": 45, "opacity": 1},
     "encoding": {"x": {"field": "x", "type": "quantitative"}, "y": {"field": "y", "type": "quantitative"}}}
  ]},
  {"layer": [
    {"data": {"name": "neu"}, "mark": {"type": "rule", "color": "#000", "strokeWidth": 2.5},
     "encoding": {"x": {"field": "x", "type": "quantitative"},
                  "y": {"field": "lo", "type": "quantitative", "scale": {"domain": [0, 1], "nice": false, "zero": false},
                        "axis": {"orient": "left", "values": [0, 0.1, 0.2, 0.3, 0.4, 0.5, 0.6, 0.7, 0.8, 0.9, 1], "labelExpr": "round(datum.value*10) % 2 == 0 ? round(datum.value*100) + '%' : ''",
                                 "title": ["% Neurons modulated", "at nosepoke exit"], "titleFontSize": 21, "titleLineHeight": 26, "titlePadding": 5, "minExtent": 48, "maxExtent": 48,
                                 "labelFontSize": 18.5, "labelPadding": 8.3, "tickSize": -5}},
                  "y2": {"field": "hi"}}},
    {"data": {"values": [{"s": "d"}]}, "mark": {"type": "rule", "color": "#8a8a8a", "strokeWidth": 1.2, "strokeDash": [6, 5]},
     "encoding": {"x": {"datum": 3.5}, "y": {"datum": 0}, "y2": {"datum": 0.99}}},
    {"data": {"name": "neu"}, "mark": {"type": "line", "color": "#000", "strokeWidth": 2.2},
     "encoding": {"x": {"field": "x", "type": "quantitative"}, "y": {"field": "y", "type": "quantitative"}}},
    {"data": {"name": "neu"}, "mark": {"type": "circle", "color": "#000", "size": 45, "opacity": 1},
     "encoding": {"x": {"field": "x", "type": "quantitative"}, "y": {"field": "y", "type": "quantitative"}}},
    {"data": {"name": "l1"}, "mark": {"type": "text", "fontSize": 21, "baseline": "alphabetic", "align": "center", "color": "#000"},
     "encoding": {"x": {"field": "x", "type": "quantitative"}, "y": {"datum": -0.0601}, "text": {"field": "s"}}},
    {"data": {"name": "l2"}, "mark": {"type": "text", "fontSize": 21, "baseline": "alphabetic", "align": "center", "color": "#000"},
     "encoding": {"x": {"field": "x", "type": "quantitative"}, "y": {"datum": -0.1274}, "text": {"field": "s"}}},
    {"data": {"name": "l3"}, "mark": {"type": "text", "fontSize": 16.5, "baseline": "alphabetic", "align": "center", "color": "#000"},
     "encoding": {"x": {"field": "x", "type": "quantitative"}, "y": {"datum": -0.1978}, "text": {"field": "s"}}},
    {"data": {"values": [{"s": "B"}]}, "mark": {"type": "text", "fontSize": 30, "baseline": "alphabetic", "align": "left", "color": "#000"},
     "encoding": {"x": {"datum": -0.57}, "y": {"datum": 0.966}, "text": {"field": "s"}}}
  ]}
 ]
}
]
}
